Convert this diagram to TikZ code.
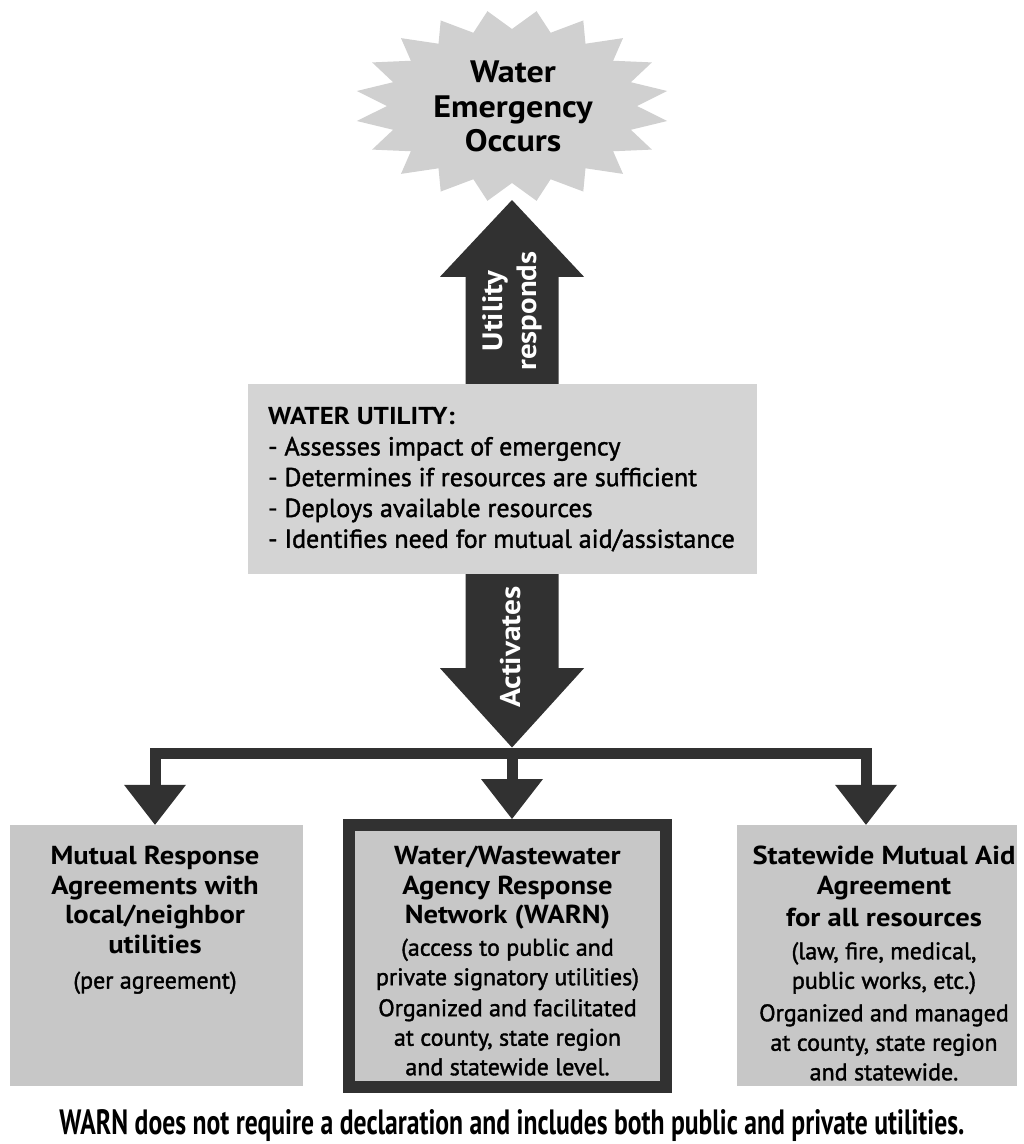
\documentclass[tikz,border=0pt]{standalone}
\usepackage{fontspec}
\setmainfont{PT Sans}[BoldFeatures={FakeStretch=1.1}]
\newfontfamily\medfont{PT Sans}[FakeBold=1.5]
\usetikzlibrary{calc,arrows.meta}
\definecolor{dk}{HTML}{313131}
\definecolor{wufill}{HTML}{D4D4D4}
\definecolor{boxfill}{HTML}{C7C7C7}
\definecolor{starfill}{HTML}{D0D0D0}
\newcommand{\bhd}[1]{{\normalfont\bfseries\fontsize{26}{29.5}\selectfont #1}}
\begin{document}
\begin{tikzpicture}[x=1pt,y=-1pt,
  bx/.style={rectangle, fill=boxfill, inner sep=0pt},
  btxt/.style={align=center, inner sep=0pt, anchor=north, font=\medfont\fontsize{24}{29.5}\selectfont},
  wutxt/.style={align=left, inner sep=0pt, anchor=north west, font=\medfont\fontsize{26}{30.8}\selectfont},
  bursttxt/.style={align=center, inner sep=0pt, anchor=north, font=\bfseries\fontsize{31}{34.5}\selectfont},
  vtxt/.style={align=center, inner sep=0pt, text=white, font=\bfseries\fontsize{28}{34}\selectfont},
  branch/.style={draw=dk, line width=11pt, -{Triangle[length=40pt,width=62pt,line width=0pt]}}]
\useasboundingbox (0,0) rectangle (1024,1144);

% starburst
\fill[starfill] plot[variable=\i, samples at={0,...,39}]
  ({512+(141+16*cos(\i*180))*cos(9+\i*9)}, {106+(86.5+9.5*cos(\i*180))*sin(9+\i*9)}) -- cycle;
\node[bursttxt] (emerg) at (513,61) {Water\\Emergency\\Occurs};
\coordinate (burstbottom) at (512,200);

% water utility box
\node[rectangle, fill=wufill, inner sep=0pt, minimum width=509pt, minimum height=190pt] (wu) at (502.5,479) {};
\node[wutxt] (wutext) at (268,407) {{\normalfont\bfseries\fontsize{24.5}{30.8}\selectfont WATER UTILITY:}\\- Assesses impact of emergency\\- Determines if resources are sufficient\\- Deploys available resources\\- Identifies need for mutual aid/assistance};

% up arrow
\coordinate (ua) at (burstbottom |- wu.north);
\fill[dk] ($(ua)+(-46.5,0)$) -- ($(ua)+(-46.5,-107)$) -- ($(ua)+(-72,-107)$) -- (burstbottom)
  -- ($(ua)+(72,-107)$) -- ($(ua)+(46.5,-107)$) -- ($(ua)+(46.5,0)$) -- cycle;
\node[vtxt, rotate=90] (resp) at (512,311) {Utility\\responds};

% down arrow
\coordinate (split) at (512,753.5);
\coordinate (da) at (split |- wu.south);
\fill[dk] ($(da)+(-46.5,0)$) -- ($(da)+(-46.5,94)$) -- ($(da)+(-72,94)$) -- ($(split)+(0,-6)$)
  -- ($(da)+(72,94)$) -- ($(da)+(46.5,94)$) -- ($(da)+(46.5,0)$) -- cycle;
\node[vtxt, rotate=90, font=\bfseries\fontsize{28.5}{34}\selectfont] (act) at (511,647) {Activates};

% bottom boxes
\node[bx, minimum width=293pt, minimum height=261pt] (L) at (156.5,955.5) {};
\node[bx, draw=dk, line width=12pt, minimum width=317pt, minimum height=262pt] (M) at (507.5,956) {};
\node[bx, minimum width=280pt, minimum height=261pt] (R) at (877,955.5) {};

% branches
\draw[branch] (split) -| ([xshift=-1.5pt]L.north);
\draw[branch] (split) -- ([xshift=4.5pt]M.north);
\draw[branch] (split) -| ([xshift=-11pt]R.north);

% box texts
\node[btxt] (Lt) at (155,846) {\bhd{Mutual Response}\\\bhd{Agreements with}\\\bhd{local/neighbor}\\\bhd{utilities}\\[6pt](per agreement)};
\node[btxt] (Mt) at (507.5,846) {\bhd{Water/Wastewater}\\\bhd{Agency Response}\\\bhd{Network (WARN)}\\[2.5pt](access to public and\\private signatory utilities)\\[1.5pt]Organized and facilitated\\at county, state region\\and statewide level.};
\node[btxt] (Rt) at (884,846) {\bhd{Statewide Mutual Aid}\\\bhd{Agreement}\\[3pt]\bhd{for all resources}\\[3pt](law, fire, medical,\\public works, etc.)\\[3pt]Organized and managed\\at county, state region\\and statewide.};

% footer
\node[anchor=base, inner sep=0pt] (foot) at (512,1134) {\resizebox{905pt}{25pt}{\bfseries WARN does not require a declaration and includes both public and private utilities.}};
\end{tikzpicture}
\end{document}
